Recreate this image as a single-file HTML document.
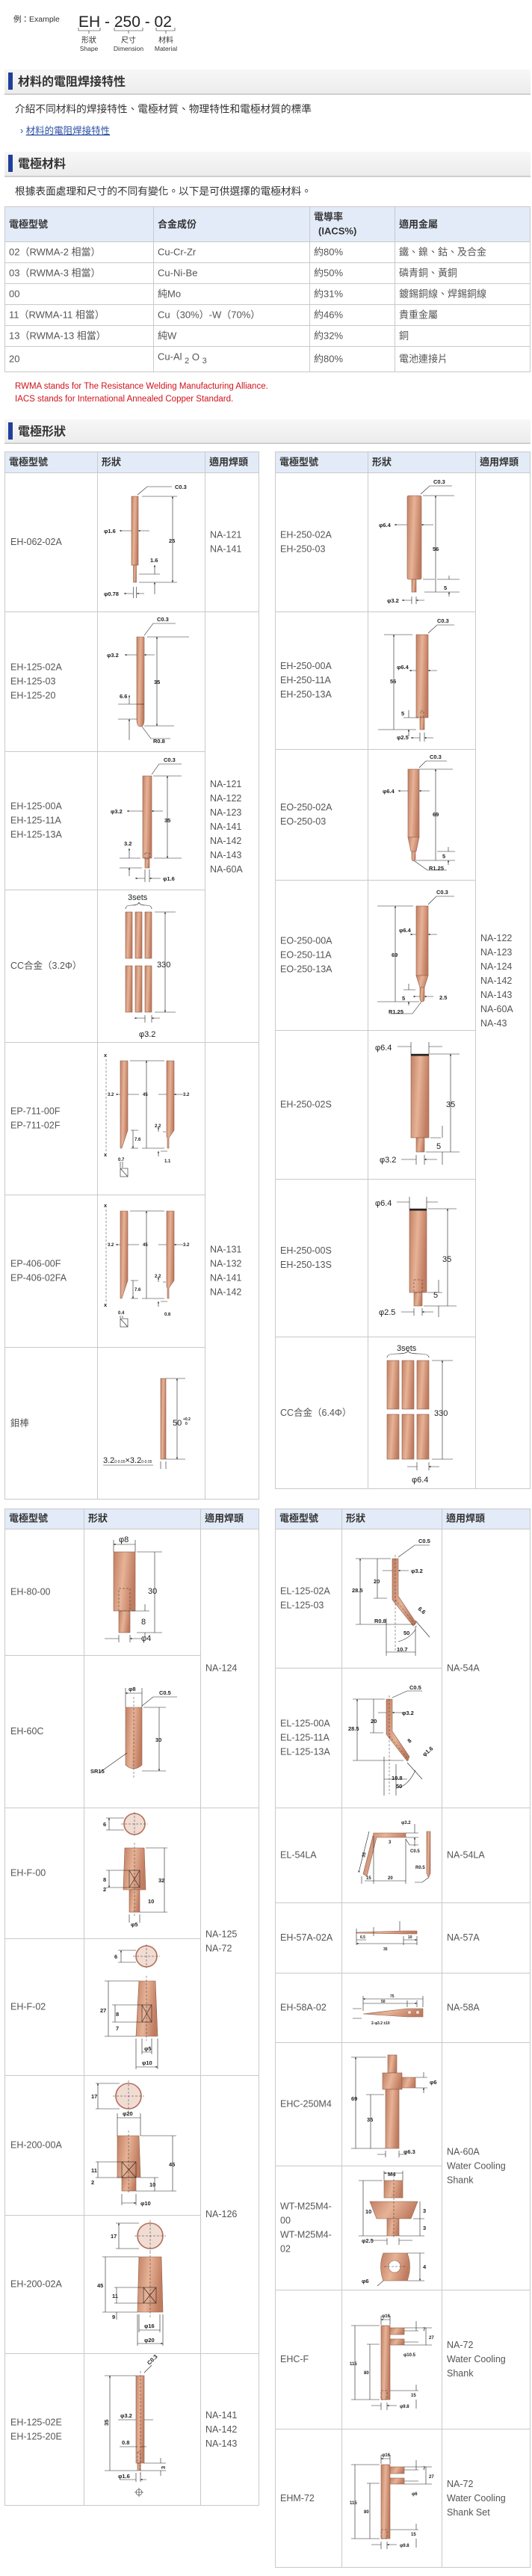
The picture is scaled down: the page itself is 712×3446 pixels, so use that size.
<!DOCTYPE html>
<html><head><meta charset="utf-8"><style>
html,body{margin:0;padding:0;background:#fff;width:712px;height:3446px;overflow:hidden}
svg{position:absolute;left:0;top:0}
</style></head><body>
<svg width="712" height="3446" viewBox="0 0 712 3446" xmlns="http://www.w3.org/2000/svg">
<defs>
<linearGradient id="cu" x1="0" y1="0" x2="1" y2="0.25">
<stop offset="0" stop-color="#c27f63"/><stop offset="0.5" stop-color="#e7b397"/><stop offset="1" stop-color="#c07c60"/></linearGradient>
<linearGradient id="hd" x1="0" y1="0" x2="0" y2="1"><stop offset="0" stop-color="#f7f7f7"/><stop offset="1" stop-color="#ececec"/></linearGradient>
<marker id="ar" viewBox="0 0 6 6" refX="6" refY="3" markerWidth="4" markerHeight="4" orient="auto-start-reverse"><path d="M0,0L6,3L0,6z" fill="#222"/></marker>
<style>
.cu{fill:url(#cu);stroke:#8e5e48;stroke-width:.6}
.ci{fill:#f1dcd3;stroke:#b0705a;stroke-width:1.6}
.d{stroke:#222;stroke-width:.6;fill:none}
.a{marker-start:url(#ar);marker-end:url(#ar)}
.dash{stroke:#333;stroke-width:.5;stroke-dasharray:3 2;fill:none}
.t{font:bold 7.5px "Liberation Sans",sans-serif;fill:#222}
.T{font:11px "Liberation Sans",sans-serif;fill:#222}
.m{font:12.5px "Liberation Sans","Noto Sans CJK TC",sans-serif;fill:#555;dominant-baseline:central}
.h{font:bold 13px "Liberation Sans","Noto Sans CJK TC",sans-serif;fill:#333;dominant-baseline:central}
.g{stroke:#c9c9c9;stroke-width:1;fill:none}
.hb{fill:#e3ebf8}
.sec{font:bold 16px "Liberation Sans","Noto Sans CJK TC",sans-serif;fill:#333;dominant-baseline:central}
.bd{font:13.7px "Liberation Sans","Noto Sans CJK TC",sans-serif;fill:#333;dominant-baseline:central}
</style>
</defs>

<!-- Example -->
<text x="18" y="29" style="font:10.5px 'Liberation Sans','Noto Sans CJK TC',sans-serif;fill:#333">例：Example</text>
<text x="105" y="36" style="font:21px 'Liberation Sans',sans-serif;fill:#222">EH - 250 - 02</text>
<path class="d" d="M105,37V41H134V37M119,41V45M153,37V41H191V37M172,41V45M209,37V41H234V37M222,41V45"/>
<g style="font:10px 'Liberation Sans','Noto Sans CJK TC',sans-serif;fill:#333" text-anchor="middle">
<text x="119" y="57">形狀</text><text x="172" y="57">尺寸</text><text x="222" y="57">材料</text>
<text x="119" y="68" style="font-size:8.5px">Shape</text><text x="172" y="68" style="font-size:8.5px">Dimension</text><text x="222" y="68" style="font-size:8.5px">Material</text>
</g>

<!-- section headers -->
<g>
<rect x="6" y="93" width="704" height="33" fill="url(#hd)"/><rect x="6" y="125" width="704" height="2" fill="#cfcfcf"/><rect x="11" y="97" width="6" height="23" fill="#1f3f9a"/>
<text class="sec" x="24" y="110">材料的電阻焊接特性</text>
<rect x="6" y="203" width="704" height="33" fill="url(#hd)"/><rect x="6" y="235" width="704" height="2" fill="#cfcfcf"/><rect x="11" y="207" width="6" height="23" fill="#1f3f9a"/>
<text class="sec" x="24" y="220">電極材料</text>
<rect x="6" y="561" width="704" height="32" fill="url(#hd)"/><rect x="6" y="592" width="704" height="2" fill="#cfcfcf"/><rect x="11" y="565" width="6" height="23" fill="#1f3f9a"/>
<text class="sec" x="24" y="578">電極形狀</text>
</g>
<text class="bd" x="20" y="146">介紹不同材料的焊接特性、電極材質、物理特性和電極材質的標準</text>
<text x="27" y="179" style="font:12.5px 'Liberation Sans','Noto Sans CJK TC',sans-serif;fill:#2b4fa3">› <tspan text-decoration="underline">材料的電阻焊接特性</tspan></text>
<text class="bd" x="20" y="256">根據表面處理和尺寸的不同有變化。以下是可供選擇的電極材料。</text>

<!-- materials table -->
<rect class="hb" x="6" y="276" width="704" height="47"/>
<g class="g">
<rect x="6.5" y="276.5" width="703" height="221"/>
<path d="M205.5,276V498M414.5,276V498M528.5,276V498M6,323.5H710M6,351.5H710M6,379.5H710M6,407.5H710M6,435.5H710M6,463.5H710"/>
</g>
<text class="h" x="12" y="300">電極型號</text><text class="h" x="211" y="300">合金成份</text>
<text class="h" x="420" y="290">電導率</text><text class="h" x="426" y="309">(IACS%)</text><text class="h" x="534" y="300">適用金屬</text>
<g class="m" style="font-size:13px">
<text x="12" y="337">02（RWMA-2 相當）</text><text x="211" y="337">Cu-Cr-Zr</text><text x="420" y="337">約80%</text><text x="534" y="337">鐵、鎳、鈷、及合金</text>
<text x="12" y="365">03（RWMA-3 相當）</text><text x="211" y="365">Cu-Ni-Be</text><text x="420" y="365">約50%</text><text x="534" y="365">磷青銅、黃銅</text>
<text x="12" y="393">00</text><text x="211" y="393">純Mo</text><text x="420" y="393">約31%</text><text x="534" y="393">鍍錫銅線、焊錫銅線</text>
<text x="12" y="421">11（RWMA-11 相當）</text><text x="211" y="421">Cu（30%）-W（70%）</text><text x="420" y="421">約46%</text><text x="534" y="421">貴重金屬</text>
<text x="12" y="449">13（RWMA-13 相當）</text><text x="211" y="449">純W</text><text x="420" y="449">約32%</text><text x="534" y="449">銅</text>
<text x="12" y="480">20</text><text x="211" y="477">Cu-Al <tspan dy="6" font-size="11">2</tspan><tspan dy="-6"> O </tspan><tspan dy="6" font-size="11">3</tspan></text><text x="420" y="480">約80%</text><text x="534" y="480">電池連接片</text>
</g>
<g style="font:11.5px 'Liberation Sans',sans-serif;fill:#d0121b">
<text x="20" y="520">RWMA stands for The Resistance Welding Manufacturing Alliance.</text>
<text x="20" y="537">IACS stands for International Annealed Copper Standard.</text>
</g>

<!-- ===== top-left table ===== -->
<rect class="hb" x="6" y="604" width="341" height="28"/>
<g class="g">
<rect x="6.5" y="604.5" width="340" height="1401"/>
<path d="M130.5,604V2006M274.5,604V2006M6,632.5H347M6,818.5H347M6,1005.5H274M6,1190.5H274M6,1394.5H347M6,1598.5H274M6,1802.5H274"/>
</g>
<text class="h" x="12" y="618">電極型號</text><text class="h" x="136" y="618">形狀</text><text class="h" x="280" y="618">適用焊頭</text>
<g class="m">
<text x="14" y="725">EH-062-02A</text>
<text x="14" y="892.5">EH-125-02A</text><text x="14" y="911.5">EH-125-03</text><text x="14" y="930.5">EH-125-20</text>
<text x="14" y="1078.5">EH-125-00A</text><text x="14" y="1097.5">EH-125-11A</text><text x="14" y="1116.5">EH-125-13A</text>
<text x="14" y="1292">CC合金（3.2Φ）</text>
<text x="14" y="1486.5">EP-711-00F</text><text x="14" y="1505.5">EP-711-02F</text>
<text x="14" y="1690.5">EP-406-00F</text><text x="14" y="1709.5">EP-406-02FA</text>
<text x="14" y="1904">鉬棒</text>
<text x="281" y="715.5">NA-121</text><text x="281" y="734.5">NA-141</text>
<text x="281" y="1049">NA-121</text><text x="281" y="1068">NA-122</text><text x="281" y="1087">NA-123</text><text x="281" y="1106">NA-141</text><text x="281" y="1125">NA-142</text><text x="281" y="1144">NA-143</text><text x="281" y="1163">NA-60A</text>
<text x="281" y="1671.5">NA-131</text><text x="281" y="1690.5">NA-132</text><text x="281" y="1709.5">NA-141</text><text x="281" y="1728.5">NA-142</text>
</g>

<!-- ===== top-right table ===== -->
<rect class="hb" x="368" y="604" width="342" height="28"/>
<g class="g">
<rect x="368.5" y="604.5" width="341" height="1387"/>
<path d="M492.5,604V1992M636.5,604V1992M368,632.5H710M368,818.5H636M368,1002.5H636M368,1177.5H636M368,1378.5H636M368,1577.5H636M368,1788.5H636"/>
</g>
<text class="h" x="374" y="618">電極型號</text><text class="h" x="498" y="618">形狀</text><text class="h" x="642" y="618">適用焊頭</text>
<g class="m">
<text x="375" y="715.5">EH-250-02A</text><text x="375" y="734.5">EH-250-03</text>
<text x="375" y="891">EH-250-00A</text><text x="375" y="910">EH-250-11A</text><text x="375" y="929">EH-250-13A</text>
<text x="375" y="1080">EO-250-02A</text><text x="375" y="1099">EO-250-03</text>
<text x="375" y="1258.5">EO-250-00A</text><text x="375" y="1277.5">EO-250-11A</text><text x="375" y="1296.5">EO-250-13A</text>
<text x="375" y="1477.5">EH-250-02S</text>
<text x="375" y="1673">EH-250-00S</text><text x="375" y="1692">EH-250-13S</text>
<text x="375" y="1890">CC合金（6.4Φ）</text>
<text x="643" y="1255">NA-122</text><text x="643" y="1274">NA-123</text><text x="643" y="1293">NA-124</text><text x="643" y="1312">NA-142</text><text x="643" y="1331">NA-143</text><text x="643" y="1350">NA-60A</text><text x="643" y="1369">NA-43</text>
</g>

<!-- ===== bottom-left table ===== -->
<rect class="hb" x="6" y="2018" width="341" height="27"/>
<g class="g">
<rect x="6.5" y="2018.5" width="340" height="1333"/>
<path d="M112.5,2018V3352M268.5,2018V3352M6,2045.5H347M6,2214.5H268M6,2418.5H347M6,2593.5H268M6,2776.5H347M6,2963.5H268M6,3148.5H347"/>
</g>
<text class="h" x="12" y="2031">電極型號</text><text class="h" x="118" y="2031">形狀</text><text class="h" x="274" y="2031">適用焊頭</text>
<g class="m">
<text x="14" y="2129.5">EH-80-00</text><text x="14" y="2316">EH-60C</text><text x="14" y="2505.5">EH-F-00</text><text x="14" y="2684.5">EH-F-02</text>
<text x="14" y="2869.5">EH-200-00A</text><text x="14" y="3055.5">EH-200-02A</text>
<text x="14" y="3240.5">EH-125-02E</text><text x="14" y="3259.5">EH-125-20E</text>
<text x="275" y="2231.5">NA-124</text><text x="275" y="2587.5">NA-125</text><text x="275" y="2606.5">NA-72</text><text x="275" y="2962">NA-126</text>
<text x="275" y="3231">NA-141</text><text x="275" y="3250">NA-142</text><text x="275" y="3269">NA-143</text>
</g>

<!-- ===== bottom-right table ===== -->
<rect class="hb" x="368" y="2018" width="342" height="27"/>
<g class="g">
<rect x="368.5" y="2018.5" width="341" height="1416"/>
<path d="M457.5,2018V3435M591.5,2018V3435M368,2045.5H710M368,2231.5H591M368,2418.5H710M368,2545.5H710M368,2639.5H710M368,2732.5H710M368,2897.5H591M368,3063.5H710M368,3249.5H710"/>
</g>
<text class="h" x="374" y="2031">電極型號</text><text class="h" x="463" y="2031">形狀</text><text class="h" x="597" y="2031">適用焊頭</text>
<g class="m">
<text x="375" y="2128.5">EL-125-02A</text><text x="375" y="2147.5">EL-125-03</text>
<text x="375" y="2305.5">EL-125-00A</text><text x="375" y="2324.5">EL-125-11A</text><text x="375" y="2343.5">EL-125-13A</text>
<text x="375" y="2481.5">EL-54LA</text><text x="375" y="2592">EH-57A-02A</text><text x="375" y="2685.5">EH-58A-02</text><text x="375" y="2814.5">EHC-250M4</text>
<text x="375" y="2951.5">WT-M25M4-</text><text x="375" y="2970.5">00</text><text x="375" y="2989.5">WT-M25M4-</text><text x="375" y="3008.5">02</text>
<text x="375" y="3156">EHC-F</text><text x="375" y="3342">EHM-72</text>
<text x="598" y="2231.5">NA-54A</text><text x="598" y="2481.5">NA-54LA</text><text x="598" y="2592">NA-57A</text><text x="598" y="2685.5">NA-58A</text>
<text x="598" y="2878.5">NA-60A</text><text x="598" y="2897.5">Water Cooling</text><text x="598" y="2916.5">Shank</text>
<text x="598" y="3137">NA-72</text><text x="598" y="3156">Water Cooling</text><text x="598" y="3175">Shank</text>
<text x="598" y="3323">NA-72</text><text x="598" y="3342">Water Cooling</text><text x="598" y="3361">Shank Set</text>
</g>

<!-- ===== drawings top-left ===== -->
<!-- EH-062 -->
<rect class="cu" x="176" y="664" width="9" height="92"/><rect class="cu" x="178.5" y="756" width="4" height="23"/>
<path class="d" d="M190,664H237M186,779H237M186,768H214"/><path class="d a" d="M231,664V779"/>
<path class="d" d="M184,662L197,651H230"/><text class="t" x="234" y="654">C0.3</text>
<text class="t" x="139" y="713">φ1.6</text><path class="d a" d="M160,710H176M200,710H185"/>
<text class="t" x="226" y="726">25</text><text class="t" x="201" y="752">1.6</text><path class="d a" d="M207,756V768M207,795V779"/>
<text class="t" x="139" y="797">φ0.78</text><path class="d" d="M178.5,785V800M182.5,785V800"/><path class="d a" d="M166,794H178M193,794H183"/>
<!-- EH-125-02A -->
<path class="cu" d="M183,852H193V962Q193,972 188,972Q183,972 183,962Z"/><path class="d" d="M183,942H193"/>
<path class="d" d="M197,852H253M193,971H233M158,942H183M158,962H183"/><path class="d a" d="M210,852V971"/>
<text class="t" x="206" y="915">35</text><path class="d" d="M193,850L205,834H235"/><text class="t" x="210" y="831">C0.3</text>
<text class="t" x="143" y="879">φ3.2</text><path class="d a" d="M167,876H183M207,876H193"/>
<text class="t" x="160" y="934">6.6</text><path class="d a" d="M173,930V942M173,990V962"/>
<path class="d" d="M190,972L202,988H228"/><text class="t" x="205" y="994">R0.8</text>
<!-- EH-125-00A -->
<rect class="cu" x="191" y="1038" width="12" height="110"/><rect class="cu" x="194" y="1148" width="6" height="13"/><rect class="dash" x="194" y="1141" width="6" height="8"/>
<path class="d" d="M205,1038H243M206,1148H243M160,1148H188M160,1161H190"/><path class="d a" d="M224,1038V1148"/>
<text class="t" x="220" y="1100">35</text><path class="d" d="M203,1036L213,1022H243"/><text class="t" x="219" y="1019">C0.3</text>
<text class="t" x="148" y="1088">φ3.2</text><path class="d a" d="M170,1085H191M218,1085H203"/>
<text class="t" x="166" y="1131">3.2</text><path class="d a" d="M173,1135V1148M173,1172V1161"/>
<path class="d" d="M194,1163V1180M200,1163V1180"/><path class="d a" d="M181,1175H194M215,1175H200"/><text class="t" x="218" y="1178">φ1.6</text>
<!-- CC 3.2 -->
<g><rect class="cu" x="168" y="1220" width="9" height="62"/><rect class="cu" x="181" y="1220" width="9" height="62"/><rect class="cu" x="194" y="1220" width="9" height="62"/>
<rect class="cu" x="168" y="1292" width="9" height="62"/><rect class="cu" x="181" y="1292" width="9" height="62"/><rect class="cu" x="194" y="1292" width="9" height="62"/></g>
<path class="d" d="M168,1216Q168,1211 176,1211Q185,1211 186,1207Q187,1211 195,1211Q203,1211 203,1216M207,1220H235M207,1354H235M194,1358V1368M203,1358V1368"/>
<path class="d a" d="M221,1220V1354"/><path class="d a" d="M180,1362H194M214,1362H203"/>
<text class="T" x="171" y="1204">3sets</text><text class="T" x="210" y="1294">330</text><text class="T" x="186" y="1387">φ3.2</text>
<!-- EP-711 -->
<g id="ep">
<polygon class="cu" points="161,1419 171,1419 171,1512 163,1536 161,1536"/>
<polygon class="cu" points="223,1419 233,1419 233,1512 226,1522 226,1536 224,1536 224,1522 223,1520"/>
<path class="dash" d="M142,1417V1540"/><text class="t" x="139" y="1414">x</text><text class="t" x="139" y="1547">x</text>
<path class="d" d="M174,1419H220M190,1536H220M175,1512H185M175,1536H185M218,1514H222M215,1540H224"/>
<path class="d a" d="M196,1419V1536M178,1512V1536"/>
<text class="t" x="191" y="1466" style="font-size:6px">45</text>
<path class="d a" d="M155,1464H161M186,1464H171M212,1464H223M245,1464H233"/>
<text class="t" x="144" y="1466" style="font-size:6px">3.2</text><text class="t" x="245" y="1466" style="font-size:6px">3.2</text>
<text class="t" x="180" y="1526" style="font-size:6px">7.6</text><text class="t" x="207" y="1508" style="font-size:6px">2.2</text>
<path class="d a" d="M212,1508V1514M212,1547V1540"/>
<rect class="d" x="161" y="1563" width="10" height="11"/><path class="d" d="M161,1563L171,1574M161,1554V1562M164,1554V1562"/>
</g>
<text class="t" x="158" y="1553" style="font-size:6px">0.7</text><text class="t" x="220" y="1555" style="font-size:6px">1.1</text>
<use href="#ep" transform="translate(0,201)"/>
<rect x="155" y="1752" width="20" height="8" fill="#fff"/><rect x="216" y="1754" width="18" height="8" fill="#fff"/>
<text class="t" x="158" y="1758" style="font-size:6px">0.4</text><text class="t" x="220" y="1760" style="font-size:6px">0.6</text>
<!-- Mo bar -->
<rect class="cu" x="215" y="1844" width="7" height="108"/>
<path class="d" d="M222,1844H248M222,1952H248M138,1960H205M215,1955V1965M222,1955V1965"/><path class="d a" d="M237,1844V1952"/>
<text class="T" x="231" y="1907">50</text><text class="t" x="245" y="1900" style="font-size:5px">+0.2</text><text class="t" x="248" y="1906" style="font-size:5px">0</text>
<text class="T" x="138" y="1957">3.2<tspan font-size="5">0-0.05</tspan>×3.2<tspan font-size="5">0-0.05</tspan></text>

<!-- ===== drawings top-right ===== -->
<rect class="cu" x="545" y="663" width="19" height="112" rx="2"/><rect class="cu" x="551" y="775" width="6" height="17"/>
<path class="d" d="M566,663H608M566,775H582M568,792H615M585,775H615M551,798V808M557,798V808"/><path class="d a" d="M583,663V792M601,770V775M601,798V792"/>
<path class="d" d="M563,661L575,650H605"/><text class="t" x="580" y="647">C0.3</text>
<text class="t" x="507" y="705">φ6.4</text><path class="d a" d="M528,702H545M580,702H564"/>
<text class="t" x="579" y="737">56</text><text class="t" x="594" y="789">5</text>
<text class="t" x="518" y="806">φ3.2</text><path class="d a" d="M538,803H551M568,803H557"/>

<rect class="cu" x="557" y="849" width="16" height="111"/><rect class="cu" x="562" y="960" width="6" height="16"/><rect class="dash" x="563" y="951" width="4" height="8"/>
<path class="d" d="M514,849H552M506,976H557M540,960H560M562,980V992M568,980V992"/><path class="d a" d="M527,849V976M547,950V960M547,985V976"/>
<path class="d" d="M573,847L585,836H608"/><text class="t" x="585" y="833">C0.3</text>
<text class="t" x="531" y="895">φ6.4</text><path class="d a" d="M548,897H557M585,897H573"/>
<text class="t" x="522" y="914">56</text><text class="t" x="537" y="957">5</text>
<text class="t" x="531" y="989">φ2.5</text><path class="d a" d="M550,987H562M580,987H568"/>

<rect class="cu" x="546" y="1029" width="15" height="91"/><polygon class="cu" points="546,1120 561,1120 557,1139 550,1139"/><path class="cu" d="M551,1139H556V1148Q556,1152 553.5,1152Q551,1152 551,1148Z"/>
<path class="d" d="M561,1029H606M556,1151H609M585,1139H609"/><path class="d a" d="M583,1029V1151M600,1133V1139M600,1157V1151"/>
<path class="d" d="M561,1027L570,1018H598"/><text class="t" x="575" y="1015">C0.3</text>
<text class="t" x="512" y="1061">φ6.4</text><path class="d a" d="M533,1058H546M575,1058H561"/>
<text class="t" x="579" y="1092">69</text><text class="t" x="592" y="1148">5</text>
<path class="d" d="M555,1152L572,1164H598"/><text class="t" x="574" y="1164">R1.25</text>

<rect class="cu" x="557" y="1212" width="16" height="93"/><polygon class="cu" points="557,1305 573,1305 568,1321 562,1321"/><path class="cu" d="M562,1321H568V1336Q568,1340 565,1340Q562,1340 562,1336Z"/>
<path class="d" d="M505,1212H553M505,1340H561M540,1324H556"/><path class="d a" d="M529,1212V1340M547,1316V1324M547,1345V1340"/>
<path class="d" d="M573,1210L584,1199H608"/><text class="t" x="584" y="1196">C0.3</text>
<text class="t" x="534" y="1247">φ6.4</text><path class="d a" d="M549,1250H557M585,1250H573"/>
<text class="t" x="524" y="1280">69</text><text class="t" x="538" y="1338">5</text>
<path class="d a" d="M553,1333H562M580,1333H568"/><text class="t" x="588" y="1337">2.5</text>
<path class="d" d="M564,1340L552,1356H522"/><text class="t" x="520" y="1356">R1.25</text>

<rect class="cu" x="550" y="1410" width="24" height="112"/><rect x="550" y="1410" width="24" height="2.5" fill="#222"/><rect class="cu" x="557" y="1522" width="11" height="19"/>
<path class="d" d="M575,1410H615M570,1541H615M576,1522H590M550,1394V1410M574,1394V1410M557,1545V1558M568,1545V1558"/>
<path class="d a" d="M603,1410V1541M592,1506V1522M592,1558V1541M532,1400H550M592,1400H574M537,1551H557M585,1551H568"/>
<text class="T" x="597" y="1481">35</text><text class="T" x="502" y="1405">φ6.4</text><text class="T" x="584" y="1537">5</text><text class="T" x="508" y="1555">φ3.2</text>

<rect class="cu" x="548" y="1617" width="23" height="112"/><rect x="548" y="1617" width="23" height="2.5" fill="#222"/><rect class="cu" x="554" y="1729" width="11" height="18"/><rect class="dash" x="554" y="1712" width="11" height="17"/>
<path class="d" d="M573,1617H611M567,1747H611M572,1729H592M548,1601V1617M571,1601V1617M554,1750V1760M565,1750V1760"/>
<path class="d a" d="M599,1617V1747M587,1712V1729M587,1762V1747M531,1608H548M586,1608H571M537,1755H554M580,1755H565"/>
<text class="T" x="592" y="1688">35</text><text class="T" x="502" y="1613">φ6.4</text><text class="T" x="580" y="1736">5</text><text class="T" x="507" y="1759">φ2.5</text>

<g><rect class="cu" x="518" y="1820" width="16" height="65"/><rect class="cu" x="538" y="1820" width="16" height="65"/><rect class="cu" x="558" y="1820" width="16" height="65"/>
<rect class="cu" x="518" y="1892" width="16" height="60"/><rect class="cu" x="538" y="1892" width="16" height="60"/><rect class="cu" x="558" y="1892" width="16" height="60"/></g>
<path class="d" d="M518,1816Q518,1811 531,1811Q545,1811 546,1807Q547,1811 561,1811Q574,1811 574,1816M578,1820H606M578,1952H606M558,1956V1967M574,1956V1967"/>
<path class="d a" d="M592,1820V1952M545,1962H558M588,1962H574"/>
<text class="T" x="531" y="1807">3sets</text><text class="T" x="581" y="1894">330</text><text class="T" x="551" y="1983">φ6.4</text>

<!-- ===== drawings bottom-left ===== -->
<rect class="cu" x="152" y="2076" width="29" height="79"/><rect class="cu" x="159" y="2155" width="15" height="29"/><rect class="dash" x="159" y="2125" width="15" height="30"/>
<path class="d" d="M152,2060V2076M181,2060V2076M183,2076H217M183,2184H217M176,2155H200M159,2187V2197M174,2187V2197"/>
<path class="d a" d="M152,2066H181M207,2076V2184M194,2146V2155M194,2190V2184M140,2192H159M190,2192H174"/>
<text class="T" x="159" y="2063">φ8</text><text class="T" x="198" y="2132">30</text><text class="T" x="189" y="2173">8</text><text class="T" x="189" y="2195">φ4</text>

<path class="cu" d="M168,2284H190V2361Q179,2371 168,2361Z"/><path class="dash" d="M179,2270V2380"/>
<path class="d" d="M168,2258V2284M190,2258V2284M192,2284H222M190,2369H222M190,2282L205,2270H237M132,2372L170,2345"/>
<path class="d a" d="M168,2265H190M213,2284V2369"/>
<text class="t" x="172" y="2262">φ8</text><text class="t" x="213" y="2267">C0.5</text><text class="t" x="208" y="2330">30</text><text class="t" x="121" y="2372">SR15</text>

<circle class="ci" cx="180" cy="2440" r="14"/><path class="dash" d="M162,2440H198M180,2424V2456"/>
<polygon class="cu" points="167,2472 193,2472 195,2528 165,2528"/><rect class="cu" x="173" y="2528" width="14" height="30"/><rect class="d" x="173" y="2502" width="14" height="23"/><path class="d" d="M173,2502L187,2525M187,2502L173,2525"/><path class="dash" d="M180,2465V2565"/>
<path class="d" d="M142,2432H166M142,2448H166M195,2472H224M187,2558H224M142,2502H173M142,2525H173M173,2561V2572M187,2561V2572"/>
<path class="d a" d="M146,2432V2448M220,2472V2558M146,2502V2525"/>
<text class="t" x="138" y="2443">6</text><text class="t" x="212" y="2518">32</text><text class="t" x="138" y="2517">8</text><text class="t" x="138" y="2530">2</text><text class="t" x="198" y="2546">10</text><text class="t" x="175" y="2577">φ5</text>

<circle class="ci" cx="196" cy="2617" r="14"/><path class="dash" d="M178,2617H214M196,2601V2633"/>
<polygon class="cu" points="186,2650 208,2650 211,2724 182,2724"/><rect class="d" x="190" y="2682" width="13" height="23"/><path class="d" d="M190,2682L203,2705M203,2682L190,2705"/><path class="dash" d="M196,2643V2730"/>
<path class="d" d="M158,2609H182M158,2625H182M140,2650H186M140,2724H182M150,2682H190M150,2705H190M182,2727V2768M211,2727V2768M190,2727V2748M203,2727V2748"/>
<path class="d a" d="M162,2609V2625M145,2650V2724M154,2682V2705M190,2745H203M182,2765H211"/>
<text class="t" x="153" y="2620">6</text><text class="t" x="134" y="2692">27</text><text class="t" x="155" y="2697">8</text><text class="t" x="155" y="2716">7</text><text class="t" x="193" y="2743">φ5</text><text class="t" x="190" y="2762">φ10</text>

<circle class="ci" cx="172" cy="2804" r="17"/><path class="dash" d="M151,2804H193M172,2783V2825"/>
<polygon class="cu" points="157,2857 186,2857 188,2913 157,2913"/><rect class="cu" x="163" y="2913" width="19" height="18"/><rect class="d" x="163" y="2892" width="19" height="21"/><path class="d" d="M163,2892L182,2913M182,2892L163,2913"/><path class="dash" d="M172,2850V2935"/>
<path class="d" d="M128,2787H160M128,2821H160M157,2827V2857M188,2827V2857M188,2857H236M182,2931H236M128,2892H163M128,2913H163M163,2935V2950M182,2935V2950M188,2913H212"/>
<path class="d a" d="M131,2787V2821M157,2833H188M231,2857V2931M131,2892V2913M207,2913V2931M163,2947H182"/>
<text class="t" x="122" y="2807">17</text><text class="t" x="164" y="2830">φ20</text><text class="t" x="226" y="2898">45</text><text class="t" x="122" y="2906">11</text><text class="t" x="122" y="2922">2</text><text class="t" x="200" y="2925">10</text><text class="t" x="188" y="2950">φ10</text>

<circle class="ci" cx="201" cy="2991" r="17"/><path class="dash" d="M180,2991H222M201,2970V3012"/>
<polygon class="cu" points="186,3019 216,3019 218,3093 184,3093"/><rect class="d" x="192" y="3060" width="17" height="21"/><path class="d" d="M192,3060L209,3081M209,3060L192,3081"/><path class="dash" d="M201,3012V3100"/>
<path class="d" d="M155,2974H186M155,3008H186M137,3019H186M137,3093H184M153,3060H192M153,3081H192M186,3096V3120M214,3096V3120M184,3096V3138M218,3096V3138"/>
<path class="d a" d="M159,2974V3008M141,3019V3093M156,3060V3081M156,3103V3093M186,3117H214M184,3135H218"/>
<text class="t" x="148" y="2994">17</text><text class="t" x="130" y="3060">45</text><text class="t" x="150" y="3074">11</text><text class="t" x="150" y="3102">9</text><text class="t" x="193" y="3114">φ16</text><text class="t" x="193" y="3133">φ20</text>

<rect class="cu" x="182" y="3178" width="11" height="117"/><rect class="cu" x="184" y="3295" width="4" height="10"/><path class="dash" d="M188,3172V3310"/><rect class="dash" x="184" y="3280" width="4" height="15"/>
<path class="d" d="M140,3178H182M140,3305H184M193,3295H222M188,3305H222M182,3308V3320M188,3308V3320M193,3174L203,3164"/>
<path class="d a" d="M147,3178V3305M215,3288V3295M215,3312V3305M158,3237H182M205,3237H193M160,3273H184M196,3273H188M160,3317H182M196,3317H188"/>
<text class="t" x="161" y="3234">φ3.2</text><text class="t" x="163" y="3270">0.8</text><text class="t" x="158" y="3315">φ1.6</text>
<text class="t" transform="translate(145,3245) rotate(-90)">35</text><text class="t" transform="translate(200,3164) rotate(-45)">C0.3</text><text class="t" transform="translate(221,3303) rotate(-90)">3</text>
<circle class="d" cx="186" cy="3334" r="4"/><path class="d" d="M180,3334H192M186,3328V3340"/>

<!-- ===== drawings bottom-right ===== -->
<path class="cu" d="M525,2085H533V2135L557,2171L553,2175L525,2140Z"/><path class="dash" d="M529,2080V2210M529,2140L558,2176"/>
<path class="d" d="M476,2085H523M500,2138H518M476,2173H553M517,2165V2215M556,2175V2215M556,2168L575,2190"/>
<path class="d a" d="M482,2085V2173M505,2085V2138M517,2210H556M533,2196Q548,2192 556,2180M512,2101H525M547,2101H533"/>
<path class="d" d="M533,2083L555,2067H575"/><text class="t" x="560" y="2064">C0.5</text><text class="t" x="550" y="2104">φ3.2</text>
<text class="t" x="471" y="2130">28.5</text><text class="t" x="500" y="2118">20</text><text class="t" x="501" y="2171">R0.8</text><text class="t" x="540" y="2187">50</text><text class="t" x="531" y="2209">10.7</text><text class="t" transform="translate(559,2153) rotate(40)">6.6</text>

<path class="cu" d="M517,2273H525V2316L548,2350L545,2356L517,2320Z"/><path class="dash" d="M521,2268V2400M521,2322L547,2355"/>
<path class="d" d="M472,2273H515M495,2318H513M472,2355H540M514,2350V2402M530,2360V2402M545,2358L565,2380"/>
<path class="d a" d="M478,2273V2355M500,2273V2318M514,2380H545M530,2392Q546,2390 556,2368M506,2291H517M543,2291H525"/>
<path class="d" d="M525,2271L545,2262H565"/><text class="t" x="548" y="2260">C0.5</text><text class="t" x="538" y="2294">φ3.2</text>
<text class="t" x="466" y="2315">28.5</text><text class="t" x="496" y="2305">20</text><text class="t" x="524" y="2381">10.8</text><text class="t" x="530" y="2392">50</text>
<text class="t" transform="translate(548,2332) rotate(-40)">8</text><text class="t" transform="translate(568,2350) rotate(-40)">φ1.6</text>

<polygon class="cu" points="486,2507 500,2452 543,2452 543,2458 504,2458 491,2510"/><path class="cu" d="M571,2450H576V2506L573.5,2512L571,2506Z"/>
<path class="d" d="M543,2452H560M543,2458H560M543,2460L548,2468H560M573,2512L565,2518H555M484,2510V2520M500,2456V2520M543,2460V2520"/>
<path class="d a" d="M480,2505L494,2450M488,2516H500M500,2516H543M555,2440V2452M555,2470V2458"/>
<text class="t" x="537" y="2440" style="font-size:6px">φ3.2</text><text class="t" x="520" y="2466" style="font-size:6px">3</text><text class="t" x="549" y="2478" style="font-size:6px">C0.5</text><text class="t" x="556" y="2500" style="font-size:6px">R0.5</text>
<text class="t" x="490" y="2514" style="font-size:6px">15</text><text class="t" x="519" y="2514" style="font-size:6px">20</text><text class="t" transform="translate(488,2485) rotate(-75)" style="font-size:6px">35</text>

<polygon class="cu" points="477,2585 540,2583 558,2583 558,2587 540,2587 477,2586"/>
<path class="d" d="M477,2580V2602M558,2590V2602M540,2590V2602M500,2578V2590M535,2570V2583"/>
<path class="d a" d="M477,2600H558M477,2595H490M540,2595H558"/>
<text class="t" x="482" y="2593" style="font-size:5px">6.5</text><text class="t" x="513" y="2609" style="font-size:5px">35</text><text class="t" x="546" y="2593" style="font-size:5px">10</text>

<polygon class="cu" points="486,2694 545,2687 566,2687 566,2698 545,2698"/><circle class="ci" cx="548" cy="2692" r="2.5" style="stroke-width:.6"/><circle class="ci" cx="559" cy="2692" r="2.5" style="stroke-width:.6"/>
<path class="d" d="M486,2670V2690M566,2670V2685M545,2676V2685M558,2676V2685M472,2687H484M472,2700H484"/>
<path class="d a" d="M486,2674H566M486,2680H545M545,2680H558"/>
<text class="t" x="510" y="2679" style="font-size:5px">50</text><text class="t" x="522" y="2672" style="font-size:5px">75</text><text class="t" x="497" y="2708" style="font-size:5px">2-φ3.2 ±10</text>

<rect class="cu" x="519" y="2749" width="12" height="24"/><rect class="cu" x="512" y="2773" width="26" height="22"/><rect class="cu" x="538" y="2779" width="18" height="14"/><rect class="cu" x="516" y="2795" width="18" height="79"/>
<path class="d" d="M470,2752H517M490,2802H514M516,2877V2886M534,2877V2886M556,2779H572M556,2793H572"/>
<path class="d a" d="M476,2752V2874M496,2802V2874M505,2882H516M545,2882H534M567,2772V2779M567,2800V2793"/>
<path class="d" d="M470,2874H516"/>
<text class="t" x="470" y="2810">69</text><text class="t" x="491" y="2838">35</text><text class="t" x="575" y="2788">φ6</text><text class="t" x="540" y="2881">φ6.3</text>

<rect class="cu" x="514" y="2917" width="25" height="23"/><polygon class="cu" points="495,2945 559,2945 550,2968 504,2968"/><rect class="cu" x="518" y="2968" width="16" height="23"/>
<path class="cu" d="M513,3014H545Q552,3032 545,3051H513Q506,3032 513,3014Z"/><circle cx="528" cy="3032" r="8" fill="#fff" stroke="#8e5e48" stroke-width=".6"/>
<path class="dash" d="M527,2910V2995M514,3032H542"/>
<path class="d" d="M514,2904V2917M539,2904V2917M480,2917H512M480,2991H518M553,2968H568M534,2991H568M545,3014H568M545,3051H568M518,2994V3003M534,2994V3003M513,3051L505,3058"/>
<path class="d a" d="M514,2907H539M486,2917V2991M562,2945V2968M562,2968V2991M498,2997H518M552,2997H534M562,3014V3051"/>
<text class="t" x="519" y="2911">M4</text><text class="t" x="489" y="2961">10</text><text class="t" x="566" y="2960">3</text><text class="t" x="566" y="2983">3</text><text class="t" x="484" y="3000">φ2.5</text><text class="t" x="566" y="3035">4</text><text class="t" x="484" y="3054">φ6</text>

<g id="ehc">
<rect class="cu" x="510" y="3111" width="12" height="99"/><rect class="cu" x="522" y="3114" width="19" height="9"/><rect class="cu" x="522" y="3129" width="19" height="8"/><rect class="dash" x="510" y="3198" width="8" height="12"/>
<path class="d" d="M510,3098V3110M522,3098V3110M470,3111H508M491,3136H508M470,3210H508M541,3118H560M541,3133H560M522,3198H560M541,3114H578M541,3137H578M510,3214V3224M518,3214V3224"/>
<path class="d a" d="M510,3103H522M475,3111V3210M495,3136V3210M557,3105V3118M557,3190V3198M557,3222V3210M570,3114V3137M497,3218H510M531,3218H518"/>
<text class="t" x="511" y="3100" style="font-size:6px">φ16</text><text class="t" x="566" y="3118" style="font-size:6px">7</text><text class="t" x="574" y="3129" style="font-size:6px">27</text>
<text class="t" x="468" y="3164" style="font-size:6px">115</text><text class="t" x="487" y="3176" style="font-size:6px">80</text><text class="t" x="550" y="3206" style="font-size:6px">15</text><text class="t" x="535" y="3221" style="font-size:6px">φ9.8</text>
</g>
<text class="t" x="540" y="3152" style="font-size:6px">φ10.5</text>
<use href="#ehc" transform="translate(0,186)"/>
<text class="t" x="551" y="3338" style="font-size:6px">φ6</text>
</svg>
</body></html>
